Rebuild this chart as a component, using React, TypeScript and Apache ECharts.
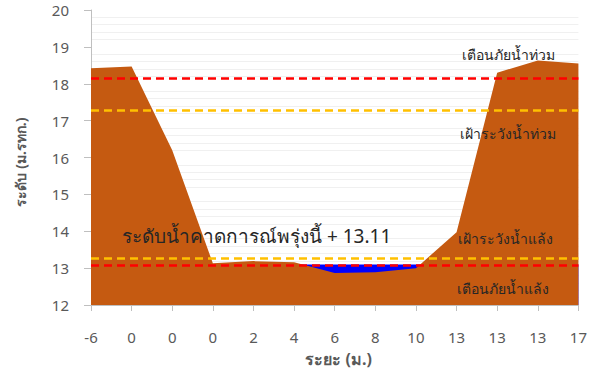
import React, { useEffect, useRef } from "react";
import * as echarts from "echarts";

const distances = ["-6", "0", "0", "0", "2", "4", "6", "8", "10", "13", "13", "13", "17"];
const groundLevel = [18.42, 18.47, 16.2, 13.13, 13.19, 13.16, 12.87, 12.89, 13.0, 13.97, 18.3, 18.63, 18.55];
const waterLevel = [13.1, 13.1, 13.1, 13.1, 13.1, 13.1, 13.1, 13.1, 13.1, 13.1, 13.1, 13.1, 13.1];
const floodWarning = 18.14;
const floodWatch = 17.29;
const droughtWatch = 13.26;
const droughtWarning = 13.07;
const forecastText = "ระดับน้ำคาดการณ์พรุ่งนี้ + 13.11";
const yTitle = "ระดับ (ม.รทก.)";

const FONT = "'Noto Sans', 'Open Sans', sans-serif";

export default function App() {
  const ref = useRef<HTMLDivElement>(null);
  useEffect(() => {
    if (!ref.current) return;
    const chart = echarts.init(ref.current, undefined, { renderer: "svg" });
    chart.setOption({
      animation: false,
      grid: { left: 91, right: 10, top: 10, bottom: 80 },
      xAxis: {
        type: "category",
        data: distances,
        boundaryGap: false,
        name: "ระยะ (ม.)",
        nameLocation: "middle",
        nameGap: 46,
        nameTextStyle: { color: "#595959", fontSize: 16, fontWeight: "bold", fontFamily: FONT, padding: [0, 0, 0, 8] },
        axisLine: { show: true, lineStyle: { color: "#bfbfbf", width: 1 } },
        axisTick: { show: true, length: 6, alignWithLabel: true, lineStyle: { color: "#bfbfbf" } },
        axisLabel: { color: "#595959", fontSize: 15, margin: 24, interval: 0, fontFamily: FONT },
        splitLine: { show: false },
      },
      yAxis: {
        type: "value",
        min: 12,
        max: 20,
        interval: 1,
        axisLine: { show: true, lineStyle: { color: "#bfbfbf", width: 1 } },
        axisTick: { show: true, length: 7, lineStyle: { color: "#bfbfbf" } },
        axisLabel: { color: "#595959", fontSize: 15, margin: 22, fontFamily: FONT },
        splitLine: { show: false },
        minorTick: { show: false, splitNumber: 5 },
        minorSplitLine: { show: true, lineStyle: { color: "#f0f0f0", width: 1 } },
      },
      series: [
        {
          name: "water",
          type: "line",
          data: waterLevel,
          symbol: "none",
          lineStyle: { width: 0 },
          areaStyle: { color: "#0000ff", opacity: 1, origin: "start" },
          z: 1,
        },
        {
          name: "ground",
          type: "line",
          data: groundLevel,
          symbol: "none",
          lineStyle: { width: 0 },
          areaStyle: { color: "#c55a11", opacity: 1, origin: "start" },
          z: 2,
          markLine: {
            silent: true,
            symbol: "none",
            label: { show: false },
            data: [
              { yAxis: floodWarning, lineStyle: { color: "#ff0000", type: [8, 5], width: 2.5 } },
              { yAxis: floodWatch, lineStyle: { color: "#ffc000", type: [8, 5], width: 2.5 } },
              { yAxis: droughtWatch, lineStyle: { color: "#ffc000", type: [8, 5], width: 2.5 } },
              { yAxis: droughtWarning, lineStyle: { color: "#ff0000", type: [8, 5], width: 2.5 } },
            ],
          },
        },
      ],
      graphic: [
        { type: "text", x: 20, y: 162, rotation: Math.PI / 2, z: 10, style: { text: yTitle, fill: "#595959", fontSize: 14, fontWeight: "bold", fontFamily: FONT, align: "center", verticalAlign: "middle" } },
        { type: "text", x: 508, y: 54, z: 10, style: { text: "เตือนภัยน้ำท่วม", fill: "#262626", fontSize: 14, fontFamily: FONT, align: "center", verticalAlign: "middle" } },
        { type: "text", x: 508, y: 133, z: 10, style: { text: "เฝ้าระวังน้ำท่วม", fill: "#262626", fontSize: 14, fontFamily: FONT, align: "center", verticalAlign: "middle" } },
        { type: "text", x: 505, y: 238, z: 10, style: { text: "เฝ้าระวังน้ำแล้ง", fill: "#262626", fontSize: 14, fontFamily: FONT, align: "center", verticalAlign: "middle" } },
        { type: "text", x: 503, y: 288, z: 10, style: { text: "เตือนภัยน้ำแล้ง", fill: "#262626", fontSize: 14, fontFamily: FONT, align: "center", verticalAlign: "middle" } },
        { type: "text", x: 122, y: 236, z: 10, style: { text: forecastText, fill: "#262626", fontSize: 19, fontFamily: FONT, align: "left", verticalAlign: "middle" } },
      ],
    });
    return () => chart.dispose();
  }, []);
  return <div ref={ref} style={{ position: "absolute", left: 0, top: 0, width: 590, height: 385 }} />;
}
